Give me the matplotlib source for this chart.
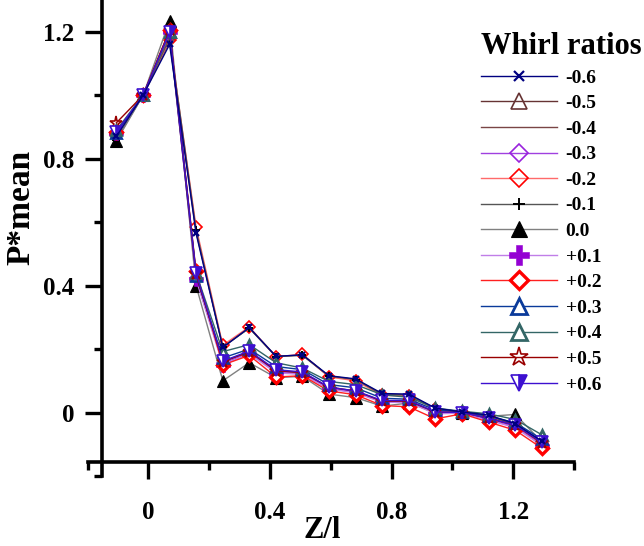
import matplotlib
matplotlib.use("Agg")
import matplotlib.pyplot as plt
from matplotlib.ticker import FixedLocator

plt.rcParams['font.family'] = ['Liberation Serif', 'DejaVu Serif']
plt.rcParams['font.weight'] = 'bold'

# Axial positions (Z/l)
z = [-0.105, -0.017, 0.070, 0.157, 0.245, 0.332, 0.420, 0.507, 0.594,
     0.682, 0.769, 0.857, 0.944, 1.032, 1.119, 1.207, 1.294]

# Mean pressure coefficient for each whirl ratio
p_m06 = [0.870, 1.000, 1.160, 0.565, 0.205, 0.268, 0.177, 0.182, 0.116, 0.106, 0.060, 0.058, 0.014, 0.002, -0.008, -0.035, -0.090]
p_m05 = [0.880, 1.000, 1.190, 0.430, 0.160, 0.190, 0.130, 0.125, 0.078, 0.066, 0.035, 0.036, 0.000, 0.000, -0.020, -0.042, -0.098]
p_m04 = [0.872, 1.000, 1.170, 0.570, 0.208, 0.266, 0.178, 0.180, 0.114, 0.104, 0.058, 0.056, 0.012, 0.002, -0.010, -0.038, -0.092]
p_m03 = [0.878, 1.000, 1.195, 0.425, 0.155, 0.188, 0.128, 0.122, 0.076, 0.064, 0.034, 0.034, -0.002, 0.000, -0.022, -0.045, -0.100]
p_m02 = [0.875, 1.000, 1.175, 0.585, 0.212, 0.270, 0.175, 0.184, 0.112, 0.100, 0.054, 0.052, 0.010, 0.000, -0.014, -0.042, -0.096]
p_m01 = [0.860, 1.000, 1.180, 0.575, 0.206, 0.266, 0.176, 0.181, 0.115, 0.104, 0.057, 0.055, 0.012, 0.002, -0.010, -0.038, -0.094]
p_000 = [0.855, 1.000, 1.235, 0.400, 0.100, 0.157, 0.110, 0.114, 0.058, 0.047, 0.020, 0.030, 0.000, 0.000, -0.012, -0.006, -0.092]
p_p01 = [0.880, 1.000, 1.200, 0.420, 0.150, 0.185, 0.125, 0.120, 0.074, 0.062, 0.032, 0.032, -0.004, -0.002, -0.024, -0.048, -0.104]
p_p02 = [0.885, 1.000, 1.205, 0.445, 0.150, 0.180, 0.112, 0.116, 0.068, 0.056, 0.022, 0.018, -0.020, -0.004, -0.030, -0.056, -0.112]
p_p03 = [0.880, 1.000, 1.200, 0.430, 0.172, 0.200, 0.145, 0.135, 0.088, 0.078, 0.045, 0.042, 0.008, 0.002, -0.012, -0.032, -0.084]
p_p04 = [0.890, 1.000, 1.200, 0.440, 0.192, 0.214, 0.157, 0.140, 0.098, 0.088, 0.056, 0.048, 0.014, 0.004, -0.004, -0.022, -0.070]
p_p05 = [0.913, 1.000, 1.205, 0.435, 0.160, 0.192, 0.132, 0.126, 0.080, 0.068, 0.036, 0.036, 0.002, 0.000, -0.018, -0.040, -0.096]
p_p06 = [0.885, 1.000, 1.200, 0.440, 0.162, 0.194, 0.135, 0.128, 0.080, 0.068, 0.038, 0.038, 0.002, 0.000, -0.018, -0.040, -0.094]

labels = ['-0.6', '-0.5', '-0.4', '-0.3', '-0.2', '-0.1', '0.0',
          '+0.1', '+0.2', '+0.3', '+0.4', '+0.5', '+0.6']
series = [p_m06, p_m05, p_m04, p_m03, p_m02, p_m01, p_000,
          p_p01, p_p02, p_p03, p_p04, p_p05, p_p06]

styles = [
    dict(color='#000080', marker='x', ms=5, mew=1.6, mec='#000080', zorder=3),
    dict(color='#663333', marker='^', ms=7.5, mew=1.2, mfc='none', mec='#663333'),
    dict(color='#7a4545', marker=None),
    dict(color='#a040e0', marker='D', ms=6.5, mew=1.2, mfc='none', mec='#9922dd'),
    dict(color='#ff6a6a', marker='D', ms=6, mew=1.2, mfc='none', mec='#ff0000'),
    dict(color='#555555', marker='+', ms=6, mew=1.4, mec='black'),
    dict(color='#808080', marker='^', ms=8, mew=0.8, mfc='black', mec='black'),
    dict(color='#c07ee8', marker='P', ms=9.5, mew=0.4, mfc='#9400d3', mec='#9400d3'),
    dict(color='#ff2020', marker='D', ms=6.5, mew=2.4, mfc='white', mec='#ff0000'),
    dict(color='#0a3a9a', marker='^', ms=7.5, mew=2.0, mfc='white', mec='#0a3a9a'),
    dict(color='#336666', marker='^', ms=7.5, mew=2.0, mfc='white', mec='#336666'),
    dict(color='#990000', marker='*', ms=9.5, mew=1.2, mfc='none', mec='#990000'),
    dict(color='#3d10d0', marker='v', ms=8, mew=1.2, fillstyle='right',
         mfc='#3d10d0', mfcalt='white', mec='#3d10d0'),
]

fig = plt.figure(figsize=(6.44, 5.46), dpi=100)
ax = fig.add_axes([87.5 / 644, 70 / 546, 486.5 / 644, 476 / 546])

for vals, lab, st in zip(series, labels, styles):
    ax.plot(z, vals, lw=1.0, label=lab, **st)

ax.set_xlim(-0.2, 1.4)
ax.set_ylim(-0.2, 1.3)

for s in ('top', 'right'):
    ax.spines[s].set_visible(False)
ax.spines['left'].set_position(('data', -0.152))
ax.spines['bottom'].set_position(('data', -0.155))
ax.spines['left'].set_linewidth(2.6)
ax.spines['bottom'].set_linewidth(2.6)

ax.xaxis.set_major_locator(FixedLocator([0, 0.4, 0.8, 1.2]))
ax.xaxis.set_minor_locator(FixedLocator([-0.2, 0.2, 0.6, 1.0, 1.4]))
ax.yaxis.set_major_locator(FixedLocator([0, 0.4, 0.8, 1.2]))
ax.yaxis.set_minor_locator(FixedLocator([-0.2, 0.2, 0.6, 1.0]))
ax.set_xticklabels(['0', '0.4', '0.8', '1.2'])
ax.set_yticklabels(['0', '0.4', '0.8', '1.2'])

ax.tick_params(which='major', direction='out', length=12, width=2.4,
               labelsize=18, pad=8)
ax.tick_params(axis='x', which='major', pad=16)
ax.tick_params(which='minor', direction='out', length=6, width=2.4)
for t in ax.get_xticklabels() + ax.get_yticklabels():
    t.set_fontweight('bold')

ax.set_xlabel('Z/l', fontsize=22, fontweight='bold')
ax.xaxis.set_label_coords(0.482, -0.083)
ax.set_ylabel('P*mean', fontsize=24, fontweight='bold', labelpad=6)
ax.yaxis.set_label_coords(-0.105, 0.565)

leg = ax.legend(loc='upper left', bbox_to_anchor=(481 / 644, 1 - 32 / 546),
                bbox_transform=fig.transFigure, frameon=False,
                title='Whirl ratios', alignment='left',
                prop={'size': 14, 'weight': 'bold'},
                title_fontproperties={'size': 22, 'weight': 'bold'},
                handlelength=3.9, handletextpad=0.45, labelspacing=0.41,
                borderpad=0, borderaxespad=0, markerscale=1.45)

fig.savefig('out.png', dpi=100)
